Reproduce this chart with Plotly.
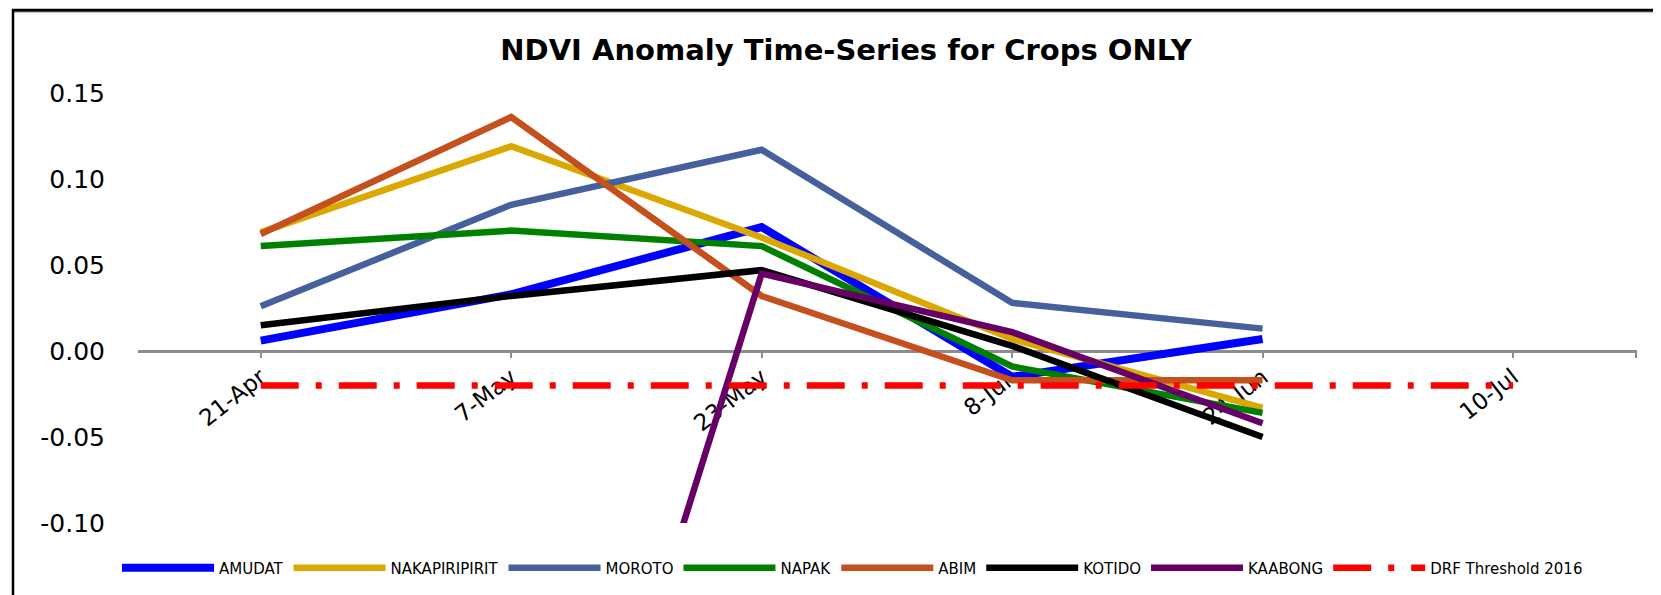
import plotly.graph_objects as go

# page body has an 8px margin, so the figure is laid out 8px smaller
W, H = 1653, 587
ML, MR, MT, MB = 130, 24, 85, 71
PW, PH = W - ML - MR, H - MT - MB

dates = ["21-Apr", "7-May", "23-May", "8-Jun", "24-Jun", "10-Jul"]
amudat = [0.006, 0.033, 0.072, -0.015, 0.007, None]
nakapiripirit = [0.069, 0.119, 0.066, 0.007, -0.033, None]
moroto = [0.026, 0.085, 0.117, 0.028, 0.013, None]
napak = [0.061, 0.070, 0.061, -0.009, -0.036, None]
abim = [0.068, 0.136, 0.032, -0.017, -0.017, None]
kotido = [0.015, 0.032, 0.047, 0.003, -0.050, None]
kaabong = [None, -0.42, 0.045, 0.011, -0.042, None]
drf_threshold = [-0.02, -0.02, -0.02, -0.02, -0.02, -0.02]

y_tickvals = [-0.10, -0.05, 0.00, 0.05, 0.10, 0.15]
y_ticktext = ["-0.10", "-0.05", "0.00", "0.05", "0.10", "0.15"]

series = [
    ("AMUDAT", amudat, "#0000FF", 8, "solid"),
    ("NAKAPIRIPIRIT", nakapiripirit, "#DAA800", 6.5, "solid"),
    ("MOROTO", moroto, "#45609C", 6.5, "solid"),
    ("NAPAK", napak, "#008000", 6.5, "solid"),
    ("ABIM", abim, "#C4501E", 6.5, "solid"),
    ("KOTIDO", kotido, "#000000", 6.5, "solid"),
    ("KAABONG", kaabong, "#660066", 6.5, "solid"),
    ("DRF Threshold 2016", drf_threshold, "#FF0000", 6.5, "38px,17px,6px,17px"),
]

x = list(range(len(dates)))
fig = go.Figure()
for name, vals, color, width, dash in series:
    fig.add_trace(go.Scatter(
        x=x, y=vals, name=name, mode="lines",
        line=dict(color=color, width=width, dash=dash),
        connectgaps=False,
    ))

xr = [-0.49, 5.495]
yr = [-0.10, 0.15]
zero_pos = (0 - yr[0]) / (yr[1] - yr[0])

fig.update_layout(
    width=W, height=H,
    margin=dict(l=ML, r=MR, t=MT, b=MB),
    paper_bgcolor="white", plot_bgcolor="white",
    title=dict(
        text="<b>NDVI Anomaly Time-Series for Crops ONLY</b>",
        font=dict(family="DejaVu Sans", size=29, color="#000000"),
        x=838 / W, xanchor="center", xref="container",
        y=1 - 42 / H, yanchor="middle", yref="container",
    ),
    xaxis=dict(
        range=xr, tickmode="array",
        tickvals=x + [5.49], ticktext=dates + [""],
        tickangle=-38,
        tickfont=dict(family="DejaVu Sans", size=23, color="#000000"),
        showline=True, linecolor="#8C8C8C", linewidth=2.5,
        ticks="outside", ticklen=5, tickwidth=2, tickcolor="#8C8C8C",
        ticklabelstandoff=-3,
        showgrid=False, zeroline=False,
        anchor="free", position=zero_pos, layer="below traces",
    ),
    xaxis2=dict(
        range=xr, overlaying="x", tickmode="array",
        tickvals=x + [5.49], ticktext=["" for _ in range(len(x) + 1)],
        showticklabels=False, showline=False,
        ticks="inside", ticklen=5, tickwidth=2, tickcolor="#8C8C8C",
        showgrid=False, zeroline=False,
        anchor="free", position=zero_pos, layer="below traces",
    ),
    yaxis=dict(
        range=yr, tickmode="array", tickvals=y_tickvals, ticktext=y_ticktext,
        tickfont=dict(family="DejaVu Sans", size=25, color="#000000"),
        showline=False, showgrid=False, zeroline=False, ticks="",
        ticklabelstandoff=32,
    ),
    showlegend=True,
    legend=dict(
        orientation="h", x=(844.5 - ML) / PW, xanchor="center",
        y=(H - MB - 560) / PH, yanchor="middle",
        font=dict(family="DejaVu Sans", size=15, color="#000000"),
        itemwidth=92, traceorder="normal",
        bgcolor="rgba(0,0,0,0)",
    ),
)

def px_x(p):
    return (p - ML) / PW

def px_y(p):
    return (H - MB - p) / PH

# frame of the embedded picture
fig.add_shape(type="line", xref="paper", yref="paper",
              x0=px_x(4), x1=px_x(W + 5), y0=px_y(2), y1=px_y(2),
              line=dict(color="#000000", width=3))
fig.add_shape(type="line", xref="paper", yref="paper",
              x0=px_x(4), x1=px_x(W + 5), y0=px_y(4.5), y1=px_y(4.5),
              line=dict(color="#BBBBBB", width=1))
fig.add_shape(type="line", xref="paper", yref="paper",
              x0=px_x(5), x1=px_x(5), y0=px_y(1), y1=px_y(H + 5),
              line=dict(color="#000000", width=2.5))

fig.write_html("out.html")
